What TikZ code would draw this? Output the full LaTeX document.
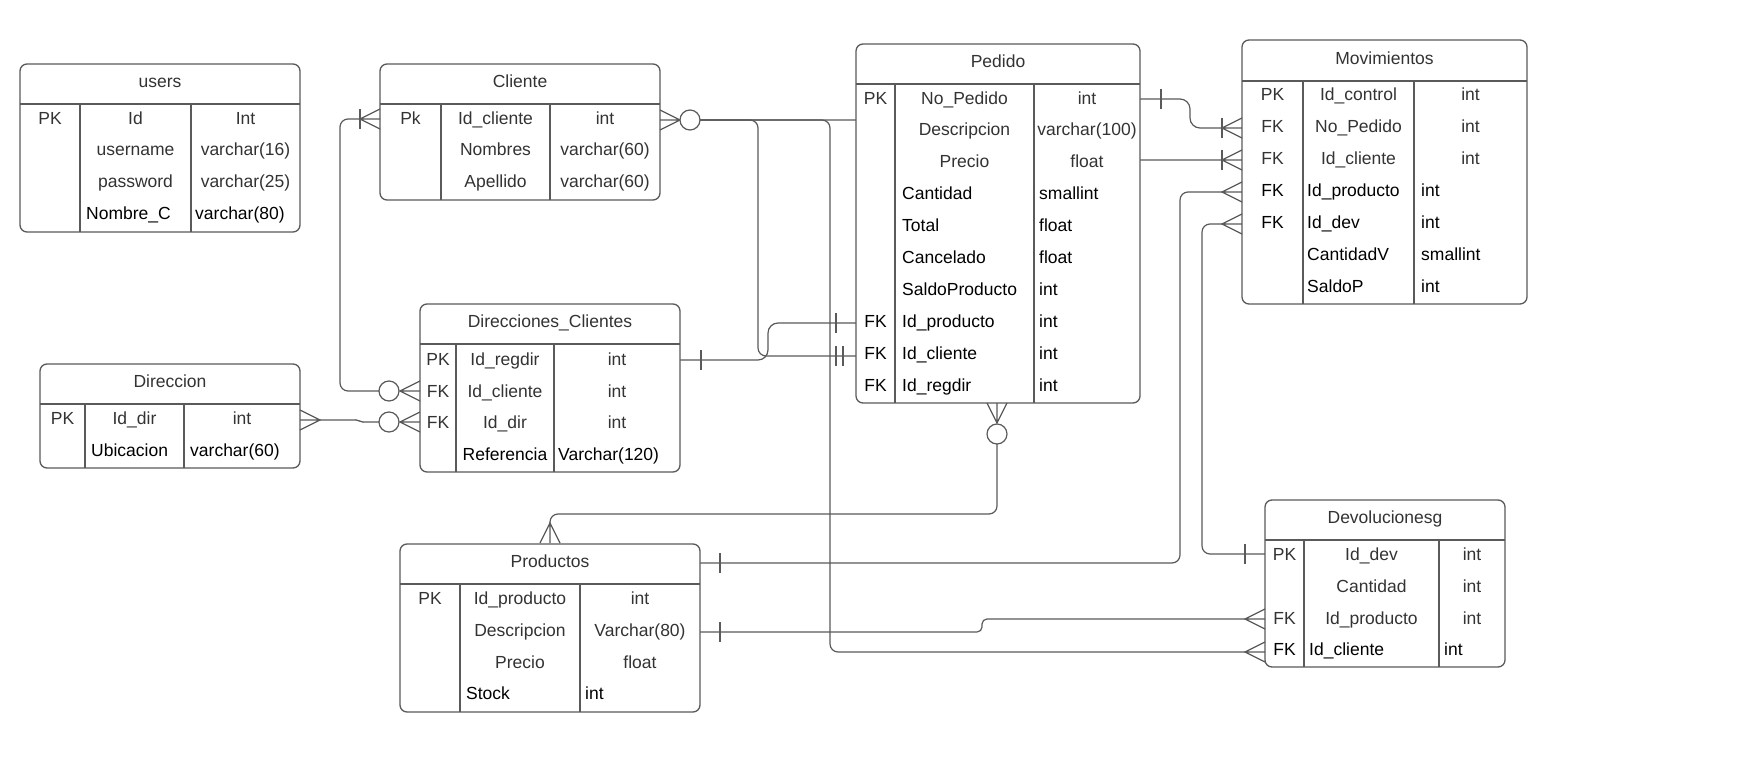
\documentclass[tikz,border=0pt]{standalone}
\usepackage{fontspec}
\setmainfont{Liberation Sans}
\usetikzlibrary{fit,calc}
\definecolor{txtg}{HTML}{333333}
\definecolor{lineg}{HTML}{5A5A5A}
\pgfdeclarelayer{bg}\pgfsetlayers{bg,main}
\newcommand\fs{\fontsize{17.5}{21}\selectfont}
\tikzset{
 tbl/.style={draw=lineg, line width=1.3pt, rounded corners=7pt, fill=white, inner sep=0pt},
 grid/.style={draw=lineg, line width=1.3pt},
 conn/.style={draw=lineg, line width=1.2pt, rounded corners=8pt},
 mk/.style={draw=lineg, line width=1.2pt},
 ttl/.style={anchor=mid, text=txtg, inner sep=0pt, font=\fs, yshift=-1pt},
 tc/.style={anchor=mid, text=txtg, inner sep=0pt, font=\fs, yshift=-3.5pt},
 tl/.style={anchor=mid west, text=black, inner sep=0pt, font=\fs, yshift=-3.5pt},
 tcb/.style={anchor=mid, text=black, inner sep=0pt, font=\fs, yshift=-3.5pt},
}
\newcommand\tabla[9]{%
 \node[tbl, fit={(#2,#3)(#4,#5)}] (#1) {};
 \draw[grid] (#2,#6) -- (#4,#6) (#7,#6) -- (#7,#5) (#8,#6) -- (#8,#5);
 \node[ttl] (#1-t) at ({(#2+#4)/2},{(#3+#6)/2}) {#9};
}
\newcommand\rowC[8]{\node[tc] (#1a) at (#3,#2) {#4}; \node[tc] (#1b) at (#5,#2) {#6}; \node[tc] (#1c) at (#7,#2) {#8};}
\newcommand\rowL[8]{\node[tcb] (#1a) at (#3,#2) {#4}; \node[tl] (#1b) at (#5,#2) {#6}; \node[tl] (#1c) at (#7,#2) {#8};}
\newcommand\crowW[2]{\draw[mk] (#1,#2-10) -- (#1-20,#2) -- (#1,#2+10) (#1-20,#2) -- (#1,#2);}
\newcommand\crowE[2]{\draw[mk] (#1,#2-10) -- (#1+20,#2) -- (#1,#2+10) (#1+20,#2) -- (#1,#2);}
\newcommand\crowS[2]{\draw[mk] (#1-10,#2) -- (#1,#2+20) -- (#1+10,#2) (#1,#2+20) -- (#1,#2);}
\newcommand\crowN[2]{\draw[mk] (#1-10,#2) -- (#1,#2-20) -- (#1+10,#2) (#1,#2-20) -- (#1,#2);}
\newcommand\barV[2]{\draw[mk] (#1,#2-10) -- (#1,#2+10);}
\newcommand\ring[2]{\draw[mk, fill=white] (#1,#2) circle[radius=10pt];}
\begin{document}
\begin{tikzpicture}[x=1pt,y=-1pt]
\useasboundingbox (0,0) rectangle (1760,775);

% ---------- tables ----------
\tabla{users}{20}{64}{300}{232}{104}{80}{191}{users}
\rowC{u1}{118}{50}{PK}{135.5}{Id}{245.5}{Int}
\rowC{u2}{149}{50}{}{135.5}{username}{245.5}{varchar(16)}
\rowC{u3}{181}{50}{}{135.5}{password}{245.5}{varchar(25)}
\rowL{u4}{213}{50}{}{86}{Nombre\_C}{195}{varchar(80)}

\tabla{cliente}{380}{64}{660}{200}{104}{441}{550}{Cliente}
\rowC{c1}{118}{410.5}{Pk}{495.5}{Id\_cliente}{605}{int}
\rowC{c2}{149}{410.5}{}{495.5}{Nombres}{605}{varchar(60)}
\rowC{c3}{181}{410.5}{}{495.5}{Apellido}{605}{varchar(60)}

\tabla{direccion}{40}{364}{300}{468}{404}{85}{184}{Direccion}
\rowC{d1}{418}{62.5}{PK}{134.5}{Id\_dir}{242}{int}
\rowL{d2}{450}{62.5}{}{91}{Ubicacion}{190}{varchar(60)}

\tabla{dircli}{420}{304}{680}{472}{344}{456}{554}{Direcciones\_Clientes}
\rowC{dc1}{359}{438}{PK}{505}{Id\_regdir}{617}{int}
\rowC{dc2}{391}{438}{FK}{505}{Id\_cliente}{617}{int}
\rowC{dc3}{422}{438}{FK}{505}{Id\_dir}{617}{int}
\node[tcb] (dc4b) at (505,454) {Referencia};
\node[tl] (dc4c) at (558,454) {Varchar(120)};

\tabla{pedido}{856}{44}{1140}{403}{84}{895}{1034}{Pedido}
\rowC{p1}{98}{875.5}{PK}{964.5}{No\_Pedido}{1087}{int}
\rowC{p2}{129}{875.5}{}{964.5}{Descripcion}{1087}{varchar(100)}
\rowC{p3}{161}{875.5}{}{964.5}{Precio}{1087}{float}
\rowL{p4}{193}{875.5}{}{902}{Cantidad}{1039}{smallint}
\rowL{p5}{225}{875.5}{}{902}{Total}{1039}{float}
\rowL{p6}{257}{875.5}{}{902}{Cancelado}{1039}{float}
\rowL{p7}{289}{875.5}{}{902}{SaldoProducto}{1039}{int}
\rowL{p8}{321}{875.5}{FK}{902}{Id\_producto}{1039}{int}
\rowL{p9}{353}{875.5}{FK}{902}{Id\_cliente}{1039}{int}
\rowL{p10}{385}{875.5}{FK}{902}{Id\_regdir}{1039}{int}

\tabla{mov}{1242}{40}{1527}{304}{81}{1303}{1414}{Movimientos}
\rowC{m1}{94}{1272.5}{PK}{1358.5}{Id\_control}{1470.5}{int}
\rowC{m2}{126}{1272.5}{FK}{1358.5}{No\_Pedido}{1470.5}{int}
\rowC{m3}{158}{1272.5}{FK}{1358.5}{Id\_cliente}{1470.5}{int}
\rowL{m4}{190}{1272.5}{FK}{1307}{Id\_producto}{1421}{int}
\rowL{m5}{222}{1272.5}{FK}{1307}{Id\_dev}{1421}{int}
\rowL{m6}{254}{1272.5}{}{1307}{CantidadV}{1421}{smallint}
\rowL{m7}{286}{1272.5}{}{1307}{SaldoP}{1421}{int}

\tabla{prod}{400}{544}{700}{712}{584}{460}{580}{Productos}
\rowC{pr1}{598}{430}{PK}{520}{Id\_producto}{640}{int}
\rowC{pr2}{630}{430}{}{520}{Descripcion}{640}{Varchar(80)}
\rowC{pr3}{662}{430}{}{520}{Precio}{640}{float}
\rowL{pr4}{693}{430}{}{466}{Stock}{585}{int}

\tabla{dev}{1265}{500}{1505}{667}{540}{1304}{1439}{Devolucionesg}
\rowC{dv1}{554}{1284.5}{PK}{1371.5}{Id\_dev}{1472}{int}
\rowC{dv2}{586}{1284.5}{}{1371.5}{Cantidad}{1472}{int}
\rowC{dv3}{618}{1284.5}{FK}{1371.5}{Id\_producto}{1472}{int}
\rowL{dv4}{649}{1284.5}{FK}{1309}{Id\_cliente}{1444}{int}

% ---------- connector end points ----------
\coordinate (cliO) at (700,120);
\coordinate (cliL) at (360,119);
\coordinate (dcC) at (379,391);
\coordinate (dcD) at (379,422);
\coordinate (dirR) at (320,420);
\coordinate (dcR) at (680,360);
\coordinate (pedL8) at (856,323);
\coordinate (pedL9) at (856,356);
\coordinate (pedR1) at (1140,99);
\coordinate (movNP) at (1222,128);
\coordinate (movCL) at (1222,160);
\coordinate (movPR) at (1222,192);
\coordinate (movDV) at (1222,224);
\coordinate (prodR1) at (700,563);
\coordinate (prodR2) at (700,632);
\coordinate (devPK) at (1265,554);
\coordinate (devPR) at (1245,619);
\coordinate (devCL) at (1245,652);
\coordinate (pedB) at (997,444);
\coordinate (prodT) at (550,523);

% ---------- connectors (behind the tables) ----------
\begin{pgfonlayer}{bg}
\fill[white] (0,0) rectangle (1760,775);
\draw[conn] (cliO) -- (1000,120) -- (1000,160) -- (movCL);
\draw[conn] (cliO) -- (758,120) -- (758,356) -- (pedL9);
\draw[conn] (cliO) -- (830,120) -- (830,652) -- (devCL);
\draw[conn] (cliL) -- (340,119) -- (340,391) -- (dcC);
\draw[conn, rounded corners=2pt] (dirR) -- (358,420) -- (361,422) -- (dcD);
\draw[conn, rounded corners=10pt] (dcR) -- (768,360) -- (768,323) -- (pedL8);
\draw[conn, rounded corners=10pt] (pedR1) -- (1190,99) -- (1190,128) -- (movNP);
\draw[conn] (movPR) -- (1180,192) -- (1180,563) -- (prodR1);
\draw[conn] (movDV) -- (1202,224) -- (1202,554) -- (devPK);
\draw[conn, rounded corners=5pt] (devPR) -- (982,619) -- (982,632) -- (prodR2);
\draw[conn] (pedB) -- (997,514) -- (550,514) -- (prodT);
\end{pgfonlayer}

% ---------- relationship marks ----------
\crowE{660}{120} \ring{690}{120}
\crowW{380}{119} \barV{360}{119}
\crowW{420}{391} \ring{389}{391}
\crowW{420}{422} \ring{389}{422}
\crowE{300}{420}
\barV{701}{360} \barV{836}{323}
\barV{836}{356} \barV{843}{356}
\barV{1161}{99}
\crowW{1242}{128} \barV{1222}{128}
\crowW{1242}{160} \barV{1222}{160}
\crowW{1242}{192}
\crowW{1242}{224}
\barV{720}{563} \barV{720}{632}
\barV{1245}{554}
\crowW{1265}{619} \crowW{1265}{652}
\crowS{997}{403} \ring{997}{434}
\crowN{550}{543}
\end{tikzpicture}
\end{document}
